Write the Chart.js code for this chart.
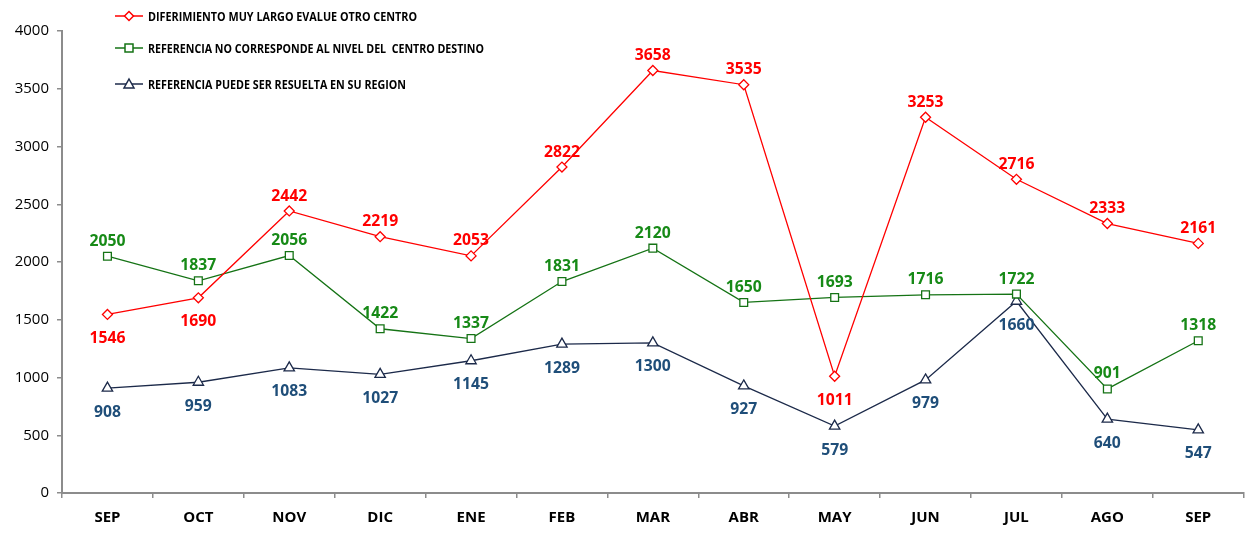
<!DOCTYPE html>
<html>
<head>
<meta charset="utf-8">
<script src="https://cdn.jsdelivr.net/npm/chart.js@4.4.1/dist/chart.umd.min.js"></script>
<style>
  html, body { margin: 0; padding: 0; background: #fff; }
  #wrap { width: 1251px; height: 536px; position: relative; }
</style>
</head>
<body>
<div id="wrap"><canvas id="chart"></canvas></div>
<script>
// months (Sep to Sep)
const months = ['SEP', 'OCT', 'NOV', 'DIC', 'ENE', 'FEB', 'MAR', 'ABR', 'MAY', 'JUN', 'JUL', 'AGO', 'SEP'];

const diferimiento = [1546, 1690, 2442, 2219, 2053, 2822, 3658, 3535, 1011, 3253, 2716, 2333, 2161];
const noCorresponde = [2050, 1837, 2056, 1422, 1337, 1831, 2120, 1650, 1693, 1716, 1722, 901, 1318];
const enSuRegion = [908, 959, 1083, 1027, 1145, 1289, 1300, 927, 579, 979, 1660, 640, 547];

const yTicks = [0, 500, 1000, 1500, 2000, 2500, 3000, 3500, 4000];

const AXIS = '#8c8c8c';

// label placement: points whose value label sits under the marker
const belowIdx = {
  0: [0, 1, 8],
  1: [],
  2: months.map((m, i) => i)
};

const labelPlugin = {
  id: 'labels',
  afterDatasetsDraw(chart) {
    const ctx = chart.ctx;
    ctx.save();
    ctx.font = 'bold 16px "Open Sans", sans-serif';
    ctx.textAlign = 'center';
    ctx.textBaseline = 'middle';
    chart.data.datasets.forEach((ds, di) => {
      const meta = chart.getDatasetMeta(di);
      ctx.fillStyle = ds.labelColor;
      meta.data.forEach((pt, i) => {
        const below = belowIdx[di].includes(i);
        const y = below ? pt.y + 24 : pt.y - 15;
        const txt = String(ds.data[i]);
        ctx.fillText(txt, pt.x, y, txt.length * 9);
      });
    });
    ctx.restore();
  },
  afterDraw(chart) {
    // legend box top-left
    const ctx = chart.ctx;
    const rows = [16, 48, 84];
    const widths = [269, 336, 258];
    ctx.save();
    chart.data.datasets.forEach((ds, di) => {
      const y = rows[di];
      ctx.strokeStyle = ds.borderColor;
      ctx.lineWidth = 1.5;
      ctx.beginPath();
      ctx.moveTo(115, y);
      ctx.lineTo(143, y);
      ctx.stroke();
      ctx.fillStyle = '#fff';
      ctx.beginPath();
      const s = 4.5;
      if (ds.pointStyle === 'rectRot') {
        ctx.moveTo(129, y - s); ctx.lineTo(129 + s, y); ctx.lineTo(129, y + s); ctx.lineTo(129 - s, y); ctx.closePath();
      } else if (ds.pointStyle === 'rect') {
        ctx.rect(129 - 4, y - 4, 8, 8);
      } else {
        ctx.moveTo(129, y - 5); ctx.lineTo(129 + 5, y + 4); ctx.lineTo(129 - 5, y + 4); ctx.closePath();
      }
      ctx.fill();
      ctx.stroke();
      ctx.fillStyle = '#000';
      ctx.font = 'bold 13px "Open Sans", sans-serif';
      ctx.textBaseline = 'middle';
      ctx.textAlign = 'left';
      ctx.fillText(ds.label, 148, y + 1, widths[di]);
    });
    ctx.restore();
  }
};

new Chart(document.getElementById('chart'), {
  type: 'line',
  data: {
    labels: months,
    datasets: [
      {
        label: 'DIFERIMIENTO MUY LARGO EVALUE OTRO CENTRO',
        data: diferimiento,
        borderColor: '#ff0000',
        labelColor: '#ff0000',
        backgroundColor: '#ffffff',
        pointStyle: 'rectRot',
        pointRadius: 5,
        pointBorderWidth: 1.3,
        borderWidth: 1.3,
        tension: 0
      },
      {
        label: 'REFERENCIA NO CORRESPONDE AL NIVEL DEL  CENTRO DESTINO',
        data: noCorresponde,
        borderColor: '#157315',
        labelColor: '#178a17',
        backgroundColor: '#ffffff',
        pointStyle: 'rect',
        pointRadius: 5.5,
        pointBorderWidth: 1.3,
        borderWidth: 1.3,
        tension: 0
      },
      {
        label: 'REFERENCIA PUEDE SER RESUELTA EN SU REGION',
        data: enSuRegion,
        borderColor: '#1c2a4a',
        labelColor: '#1f4e79',
        backgroundColor: '#ffffff',
        pointStyle: 'triangle',
        pointRadius: 6,
        pointBorderWidth: 1.3,
        borderWidth: 1.3,
        tension: 0
      }
    ]
  },
  options: {
    responsive: true,
    maintainAspectRatio: false,
    animation: false,
    layout: { padding: { top: 31, right: 0, left: 0, bottom: 0 } },
    plugins: {
      legend: { display: false },
      tooltip: { enabled: false }
    },
    scales: {
      x: {
        offset: true,
        grid: { offset: true, drawOnChartArea: false, drawTicks: true, tickLength: 5, color: AXIS, lineWidth: 1.5 },
        border: { color: AXIS, width: 2 },
        ticks: { color: '#000', font: { family: '"Open Sans", sans-serif', size: 15, weight: 'bold' }, padding: 11 },
        afterFit(scale) { scale.height = 43; }
      },
      y: {
        min: 0,
        max: 4000,
        afterBuildTicks(scale) { scale.ticks = yTicks.map(v => ({ value: v })); },
        grid: { drawOnChartArea: false, drawTicks: true, tickLength: 5, color: AXIS, lineWidth: 1.5 },
        border: { color: AXIS, width: 2 },
        ticks: {
          color: '#000',
          font: { family: '"Open Sans", sans-serif', size: 15 },
          padding: 8,
          callback: (v) => String(v)
        },
        afterFit(scale) { scale.width = 62; }
      }
    }
  },
  plugins: [labelPlugin]
});
</script>
</body>
</html>
